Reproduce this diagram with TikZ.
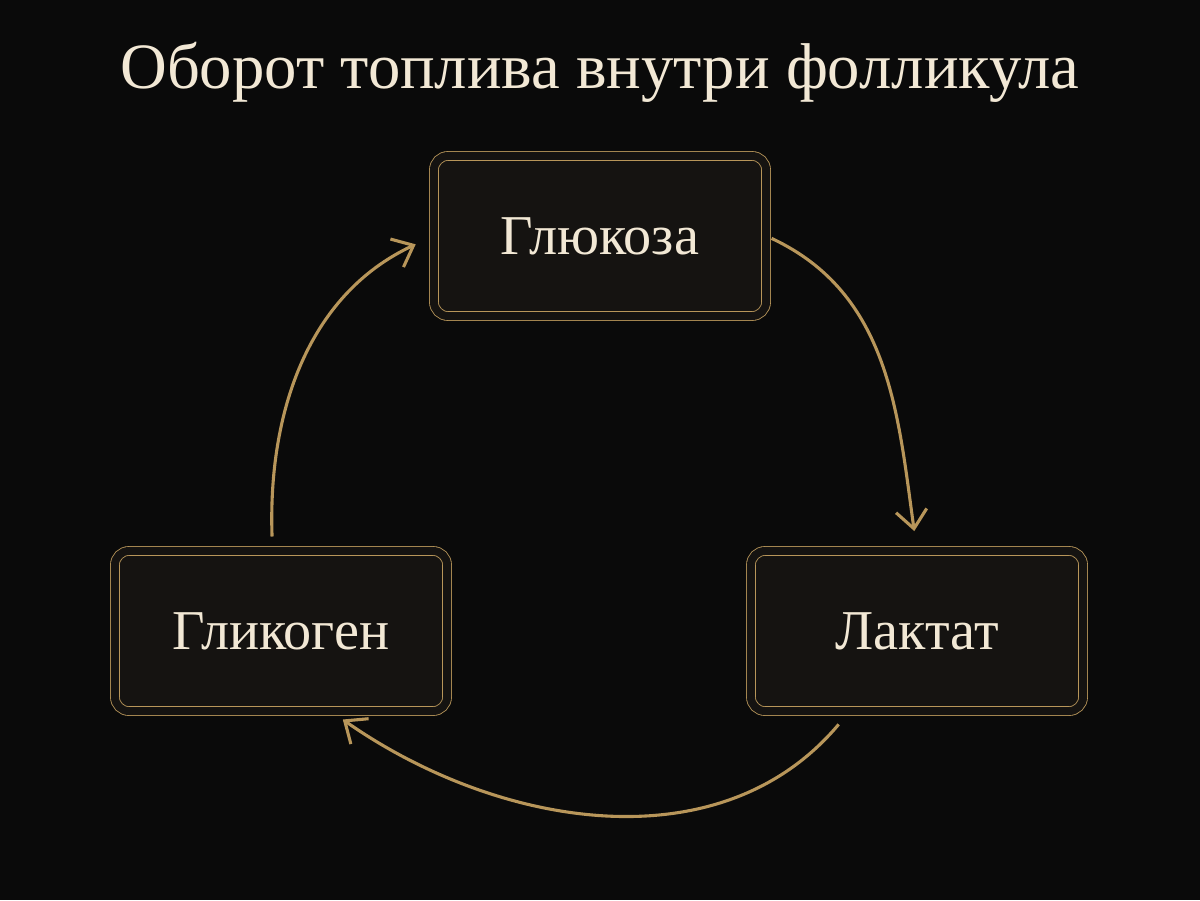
\documentclass[tikz,border=0pt]{standalone}
\usepackage{fontspec}
\setmainfont{Liberation Serif}
\usetikzlibrary{arrows.meta}
\definecolor{bgdark}{HTML}{0A0A0A}
\definecolor{boxfill}{HTML}{151311}
\definecolor{gold}{HTML}{B8965A}
\definecolor{cream}{HTML}{F2E8D5}
\tikzset{
  stage/.style={draw=gold, line width=0.6pt, double=boxfill, double distance=0.2cm,
    fill=boxfill, rounded corners=0.35cm, minimum width=8.3cm, minimum height=4cm,
    text=cream, font=\fontsize{40}{48}\selectfont},
  cycle/.style={draw=gold, line width=2.2pt, -{Straight Barb[length=13pt,width=22pt]}}
}
\begin{document}
\begin{tikzpicture}[x=0.025cm, y=-0.025cm]
  \fill[bgdark] (0,0) rectangle (1200,900);
  \node[text=cream, font=\fontsize{46}{54}\selectfont] (title) at (600,72) {Оборот топлива внутри фолликула};
  \node[stage] (gluc) at (600,236) {Глюкоза};
  \node[stage] (lact) at (917,631) {Лактат};
  \node[stage] (glyc) at (281,631) {Гликоген};
  % cycle arrows
  \draw[cycle, shorten <=4pt, shorten >=14pt] (gluc.east) to[out=-25, in=98] (lact.north);
  \draw[cycle, shorten <=12pt, shorten >=10pt] (lact.230) to[out=-130, in=-35] (glyc.302);
  \draw[cycle, shorten <=10pt, shorten >=14pt] (glyc.96) to[out=92, in=205] (gluc.west);
\end{tikzpicture}
\end{document}
